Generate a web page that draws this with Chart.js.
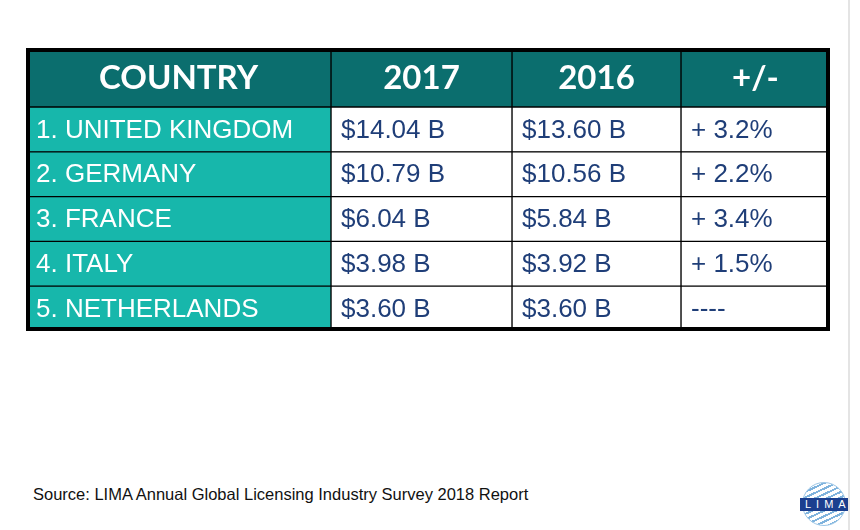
<!DOCTYPE html>
<html>
<head>
<meta charset="utf-8">
<script src="https://cdn.jsdelivr.net/npm/chart.js@4.4.1/dist/chart.umd.min.js"></script>
<style>
  body { margin: 0; background: #fff; width: 860px; height: 530px; position: relative; overflow: hidden; font-family: "Liberation Sans", Arial, sans-serif; }
  #headChart { position: absolute; left: 26px; top: 48px; }
  #bodyChart { position: absolute; left: 26px; top: 107px; }
  .edge { position: absolute; left: 848px; top: 0; width: 2px; height: 530px; background: #e4e4e4; }
  .source { position: absolute; left: 33px; top: 485px; font-size: 16.5px; color: #111; }
  .logo { position: absolute; left: 802px; top: 482px; width: 42px; height: 42px; border-radius: 50%;
          border: 1px solid #9cc6e6;
          background: repeating-linear-gradient(155deg, #fff 0 3px, #7fb3dd 3px 5px); }
  .logo span { position: absolute; left: -3px; top: 15px; width: 48px; height: 13px; background: #1b3f8f;
               color: #fff; font-size: 11px; line-height: 13px; text-align: center; letter-spacing: 5px; text-indent: 5px; }
</style>
</head>
<body>
<div class="edge"></div>
<canvas id="headChart" width="804" height="59"></canvas>
<canvas id="bodyChart" width="804" height="224"></canvas>
<div class="source">Source: LIMA Annual Global Licensing Industry Survey 2018 Report</div>
<div class="logo"><span>LIMA</span></div>

<script>
const headers = ['COUNTRY', '2017', '2016', '+/-'];
const countries = ['1. UNITED KINGDOM', '2. GERMANY', '3. FRANCE', '4. ITALY', '5. NETHERLANDS'];
const sales2017 = [14.04, 10.79, 6.04, 3.98, 3.60];
const sales2016 = [13.60, 10.56, 5.84, 3.92, 3.60];
const change = [3.2, 2.2, 3.4, 1.5, null];

// column edges in px along the table width
const colEdges = [0, 305, 486, 655, 804];

const money = v => '$' + v.toFixed(2) + ' B';
const pct = v => v == null ? '----' : '+ ' + v.toFixed(1) + '%';

const cellText = {
    id: 'cellText',
    afterDatasetsDraw(chart) {
        const ctx = chart.ctx;
        chart.data.datasets.forEach((ds, i) => {
            chart.getDatasetMeta(i).data.forEach((el, j) => {
                ctx.save();
                ctx.font = ds.textFont;
                ctx.fillStyle = ds.textColor;
                ctx.textBaseline = 'middle';
                if (ds.textAlign === 'center') {
                    ctx.textAlign = 'center';
                    ctx.fillText(ds.texts[j], (el.base + el.x) / 2, el.y + 1);
                } else {
                    ctx.textAlign = 'left';
                    ctx.fillText(ds.texts[j], Math.min(el.base, el.x) + 10, el.y + 1);
                }
                ctx.restore();
            });
        });
    }
};

// thick outer frame, only on the given sides
const frame = {
    id: 'frame',
    afterDraw(chart, args, opts) {
        const a = chart.chartArea, ctx = chart.ctx;
        ctx.save();
        ctx.strokeStyle = '#000';
        ctx.lineWidth = 4;
        ctx.beginPath();
        if (opts.top) {
            ctx.moveTo(a.left + 2, a.bottom);
            ctx.lineTo(a.left + 2, a.top + 2);
            ctx.lineTo(a.right - 2, a.top + 2);
            ctx.lineTo(a.right - 2, a.bottom);
        } else {
            ctx.moveTo(a.left + 2, a.top);
            ctx.lineTo(a.left + 2, a.bottom - 2);
            ctx.lineTo(a.right - 2, a.bottom - 2);
            ctx.lineTo(a.right - 2, a.top);
        }
        ctx.stroke();
        ctx.restore();
    }
};

function makeTable(id, rows, columns, fills, fonts, colors, aligns, top) {
    new Chart(document.getElementById(id), {
        type: 'bar',
        data: {
            labels: rows,
            datasets: columns.map((texts, c) => ({
                data: rows.map(() => [colEdges[c], colEdges[c + 1]]),
                backgroundColor: fills[c],
                borderColor: '#000',
                borderWidth: 1,
                borderSkipped: false,
                grouped: false,
                barPercentage: 1,
                categoryPercentage: 1,
                texts: texts,
                textFont: fonts[c],
                textColor: colors[c],
                textAlign: aligns[c]
            }))
        },
        options: {
            indexAxis: 'y',
            responsive: false,
            animation: false,
            layout: { padding: 0 },
            plugins: { legend: { display: false }, tooltip: { enabled: false }, frame: { top: top } },
            scales: {
                x: { type: 'linear', min: colEdges[0], max: colEdges[colEdges.length - 1], display: false },
                y: { display: false }
            }
        },
        plugins: [cellText, frame]
    });
}

const headFont = 'bold 33px Lato, "Open Sans", sans-serif';
const bodyFont = '26px "Liberation Sans", Arial, sans-serif';
const navy = '#1f3e78';

makeTable('headChart', ['head'], headers.map(h => [h]),
    ['#0b6e6e', '#0b6e6e', '#0b6e6e', '#0b6e6e'],
    [headFont, headFont, headFont, headFont],
    ['#fff', '#fff', '#fff', '#fff'],
    ['center', 'center', 'center', 'center'], true);

makeTable('bodyChart', countries,
    [countries, sales2017.map(money), sales2016.map(money), change.map(pct)],
    ['#17b7ab', '#fff', '#fff', '#fff'],
    [bodyFont, bodyFont, bodyFont, bodyFont],
    ['#fff', navy, navy, navy],
    ['left', 'left', 'left', 'left'], false);
</script>
</body>
</html>
